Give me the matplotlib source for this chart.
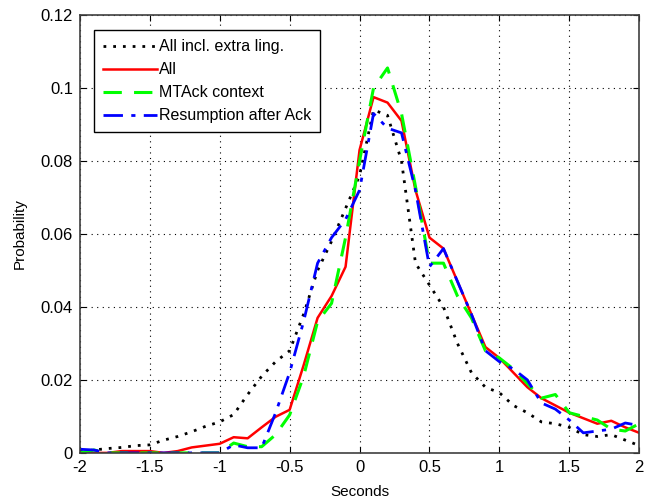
import numpy as np
import matplotlib
matplotlib.use('Agg')
import matplotlib.pyplot as plt
from matplotlib.ticker import FuncFormatter

plt.rcParams['font.family'] = ['Liberation Sans', 'DejaVu Sans']

# bin centres (seconds)
seconds = np.round(np.arange(-2.0, 2.01, 0.1), 1)

# All incl. extra ling.
all_extra = [0.0003, 0.0008, 0.0012, 0.0015, 0.002, 0.0022, 0.0035, 0.0045, 0.0058, 0.0073,
             0.0085, 0.0105, 0.016, 0.021, 0.025, 0.028, 0.038, 0.050, 0.058, 0.067,
             0.076, 0.094, 0.0925, 0.080, 0.052, 0.046, 0.040, 0.030, 0.022, 0.018,
             0.0165, 0.013, 0.011, 0.0085, 0.008, 0.007, 0.005, 0.0045, 0.005, 0.0035,
             0.002]
# All
all_ = [0.0003, 0.0, 0.0, 0.0005, 0.0005, 0.0005, 0.0, 0.0005, 0.0015, 0.002,
        0.0025, 0.0043, 0.004, 0.007, 0.0099, 0.0118, 0.024, 0.037, 0.043, 0.051,
        0.083, 0.0975, 0.096, 0.091, 0.072, 0.059, 0.056, 0.047, 0.038, 0.029,
        0.026, 0.022, 0.018, 0.015, 0.013, 0.011, 0.0095, 0.008, 0.0088, 0.007,
        0.0055]
# MTAck context
mtack = [0.0, 0.0008, 0.0, 0.0, 0.0, 0.0, 0.0, 0.0, 0.0, 0.0,
         0.0, 0.0027, 0.0017, 0.0017, 0.005, 0.0104, 0.021, 0.036, 0.041, 0.059,
         0.080, 0.100, 0.1055, 0.093, 0.073, 0.052, 0.052, 0.043, 0.037, 0.028,
         0.026, 0.023, 0.019, 0.015, 0.016, 0.011, 0.010, 0.009, 0.0065, 0.006,
         0.008]
# Resumption after Ack
resump = [0.001, 0.0008, 0.0, 0.0, 0.0, 0.0, 0.0, 0.0, 0.0, 0.0,
          0.0, 0.0022, 0.0014, 0.0014, 0.011, 0.022, 0.036, 0.052, 0.059, 0.064,
          0.072, 0.093, 0.089, 0.0877, 0.072, 0.051, 0.056, 0.047, 0.038, 0.028,
          0.025, 0.023, 0.020, 0.0137, 0.012, 0.009, 0.0055, 0.006, 0.0065, 0.0082,
          0.0075]

fig = plt.figure(figsize=(6.49, 5.01), dpi=100)
ax = fig.add_axes([0.123, 0.096, 0.862, 0.874])

ax.plot(seconds, all_extra, color='k', linestyle=(0, (1, 2.5)), linewidth=2.0, label='All incl. extra ling.')
ax.plot(seconds, all_, color='#ff0000', linestyle='-', linewidth=1.8, label='All')
ax.plot(seconds, mtack, color='#00ff00', linestyle=(0, (6, 4)), linewidth=2.2, label='MTAck context')
ax.plot(seconds, resump, color='#0000ff', linestyle=(0, (7, 3, 1.5, 3)), linewidth=2.0, label='Resumption after Ack')

ax.set_xlim(-2, 2)
ax.set_ylim(0, 0.12)
ax.set_xticks(np.arange(-2, 2.01, 0.5))
ax.set_yticks(np.arange(0, 0.121, 0.02))
ax.xaxis.set_major_formatter(FuncFormatter(lambda v, p: '%g' % round(v, 3)))
ax.yaxis.set_major_formatter(FuncFormatter(lambda v, p: '%g' % round(v, 3)))
ax.tick_params(direction='in', top=True, right=True, labelsize=12, length=4, color='k', pad=5)
ax.grid(True, color='k', linestyle=(0, (1, 4)), linewidth=0.8)

for s in ax.spines.values():
    s.set_color('#404040')
    s.set_linewidth(1.2)

ax.set_xlabel('Seconds', fontsize=11, labelpad=7)
ax.set_ylabel('Probability', fontsize=11, labelpad=10)

leg = ax.legend(loc='upper left', bbox_to_anchor=(0.025, 0.965), borderaxespad=0,
                fontsize=11.5, handlelength=3.4, handletextpad=0.1, borderpad=0.55,
                labelspacing=0.5, fancybox=False, framealpha=1, edgecolor='k')
leg.get_frame().set_linewidth(1.0)

plt.savefig('out.png', dpi=100)
